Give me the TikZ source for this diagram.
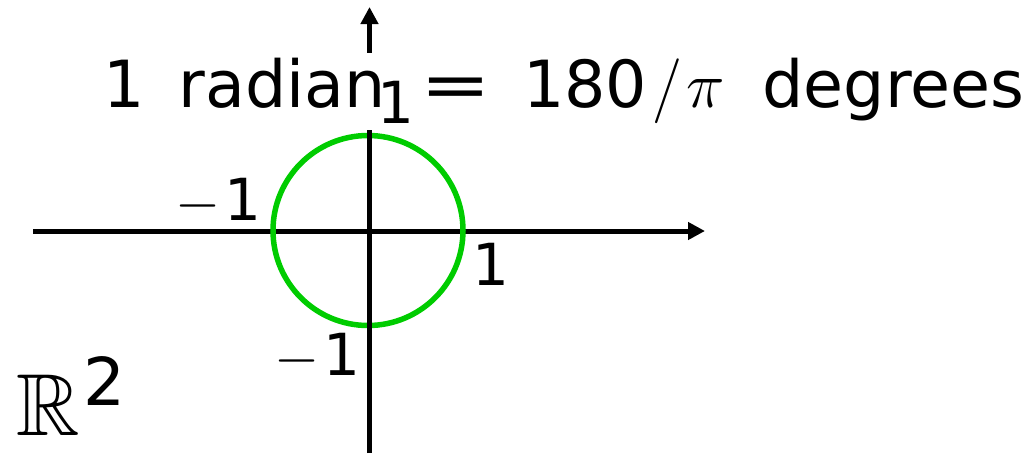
\documentclass[tikz,border=0pt]{standalone}
\usepackage{fix-cm}
\usepackage{graphicx}
\usepackage{amssymb}
\usepackage{fontspec}
\setmainfont{DejaVu Sans}
\setsansfont{DejaVu Sans}
\usetikzlibrary{arrows.meta}
\definecolor{circgreen}{RGB}{0,204,0}
\begin{document}
\begin{tikzpicture}[x=1pt,y=-1pt,
  axis/.style={line width=5pt,-{Triangle[length=17pt,width=17pt]}},
  lbl/.style={inner sep=0pt,font=\fontsize{58}{58}\selectfont},
  unitcirc/.style={draw=circgreen,line width=5.5pt}]
\useasboundingbox (0,0) rectangle (1031,453);
\coordinate (xs) at (33,231);
\coordinate (xe) at (705,231);
\coordinate (ys) at (369.5,453);
\coordinate (ye) at (369.5,7);
\coordinate (o) at (368,230.5);
\draw[axis] (xs) -- (xe);
\draw[unitcirc] (o) circle[radius=95pt];
\draw[axis] (ys) -- (ye);
\node[inner sep=0pt,font=\fontsize{65}{65}\selectfont,fill=white,text height=54pt,text depth=23pt,anchor=base west] (title) at (103,107)
  {1\hspace{34pt}radian\hspace{35pt}\scalebox{1.3}[1]{=}\hspace{32pt}180\hspace{5pt}$/$\hspace{4pt}$\pi$\hspace{38pt}degrees};
\node[lbl,anchor=base] (ytop) at (396,123) {1};
\node[lbl,anchor=base east] (xneg) at (262,220) {$-$\hspace{4pt}1};
\node[lbl,anchor=base west] (xpos) at (472,285) {1};
\node[lbl,anchor=base east] (yneg) at (361,375) {$-$\hspace{4pt}1};
\node[inner sep=0pt,anchor=base west] (rr) at (16,435) {{\fontsize{88}{88}\selectfont$\mathbb{R}$}\hspace{4pt}\raisebox{30pt}{\fontsize{66}{66}\selectfont 2}};
\end{tikzpicture}
\end{document}
